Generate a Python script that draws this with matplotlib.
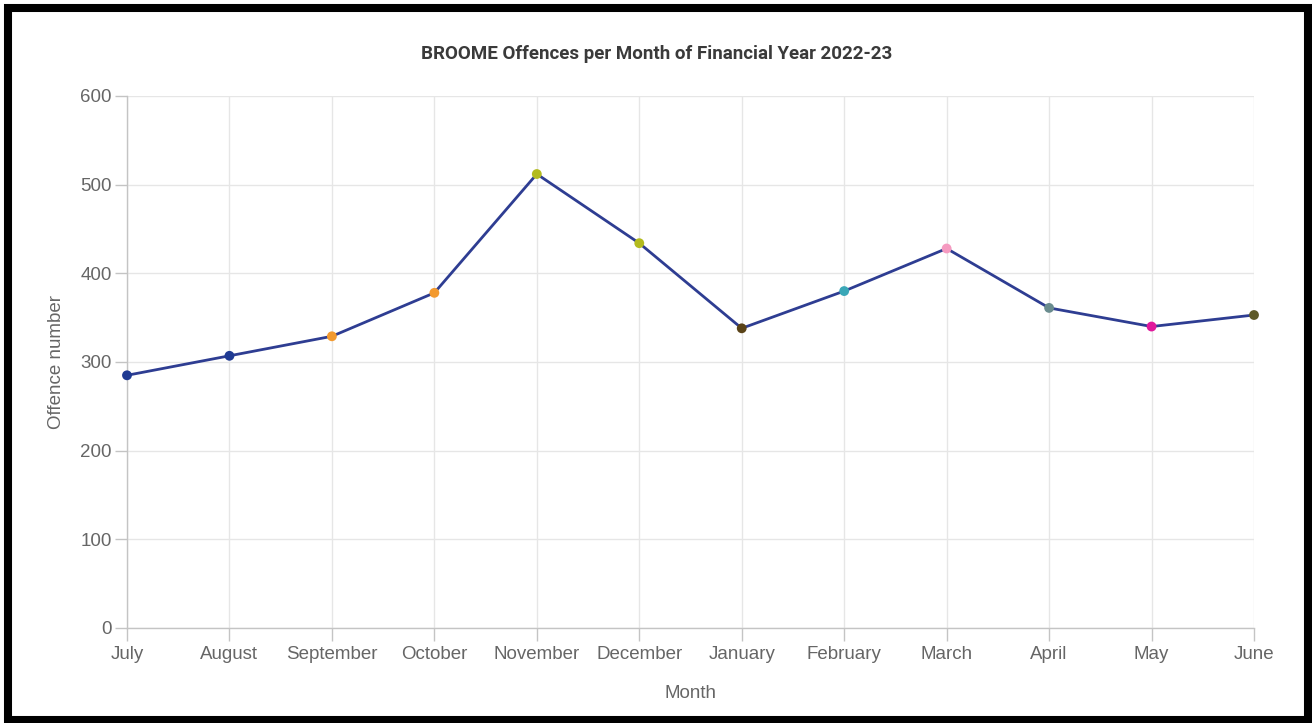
import matplotlib
matplotlib.use("Agg")
import matplotlib.pyplot as plt
from matplotlib.patches import Rectangle

plt.rcParams['font.family'] = ['Liberation Sans', 'DejaVu Sans']

months = ["July", "August", "September", "October", "November", "December",
          "January", "February", "March", "April", "May", "June"]
offences = [285, 307, 329, 378, 512, 434, 338, 380, 428, 361, 340, 353]
marker_colors = ["#1f3a93", "#1f3a93", "#f39a2f", "#f39a2f", "#b3bb1e", "#b3bb1e",
                 "#5a4318", "#3aa7b7", "#f59ac0", "#6a8c8e", "#e0189c", "#5e5a28"]
yticks = [0, 100, 200, 300, 400, 500, 600]

W, H = 1312, 723
fig = plt.figure(figsize=(W / 100, H / 100), dpi=100)

ax = fig.add_axes([127 / W, (H - 628) / H, (1254 - 127) / W, (628 - 96) / H])
x = list(range(len(months)))
ax.plot(x, offences, color="#2e3d92", lw=2.0, zorder=3, clip_on=False)
ax.scatter(x, offences, c=marker_colors, s=50, zorder=4, edgecolors='none', clip_on=False)

ax.set_xlim(0, len(months) - 1)
ax.set_ylim(0, 600)
ax.set_xticks(x)
ax.set_xticklabels(months)
ax.set_yticks(yticks)
ax.grid(True, color="#e6e6e6", lw=1.0)
ax.set_axisbelow(True)
for s in ["top", "right"]:
    ax.spines[s].set_visible(False)
for s in ["left", "bottom"]:
    ax.spines[s].set_color("#c4c4c4")
    ax.spines[s].set_linewidth(1.0)
ax.tick_params(axis='both', colors="#c4c4c4", labelcolor="#666666", labelsize=13.5,
               length=9, width=1.0)
ax.tick_params(axis='x', pad=4)
ax.tick_params(axis='y', pad=2)
ax.set_xlabel("Month", color="#666666", fontsize=13.5, labelpad=16)
ax.set_ylabel("Offence number", color="#666666", fontsize=13.5, labelpad=11)

fig.text(657 / W, 1 - 54 / H, "BROOME Offences per Month of Financial Year 2022-23",
         ha='center', va='center', fontsize=13.5, fontweight='bold', color="#3a3a3a",
         family=['Roboto', 'DejaVu Sans'])

# black frame around the chart
fig.patches.append(Rectangle((8 / W, 3.5 / H), 1300 / W, 712 / H,
                             transform=fig.transFigure, fill=False,
                             edgecolor='black', lw=5.8, zorder=10))

fig.savefig("out.png", dpi=100)
